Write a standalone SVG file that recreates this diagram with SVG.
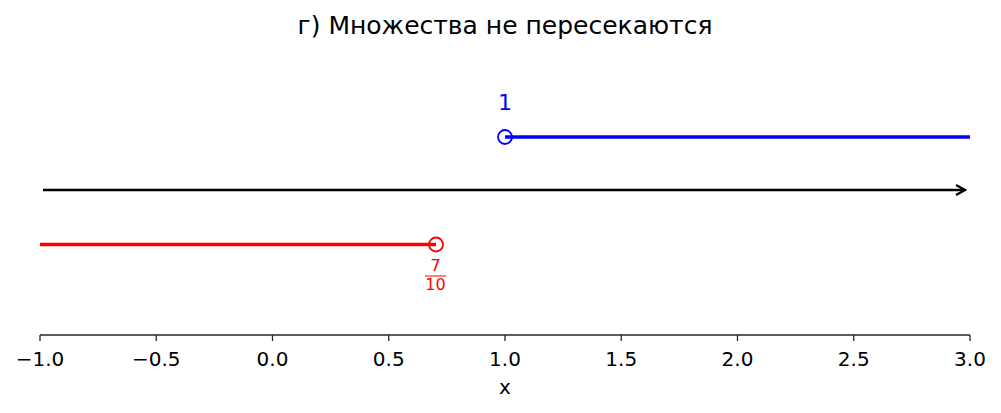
<svg xmlns="http://www.w3.org/2000/svg" width="1001" height="413" viewBox="0 0 1001 413">
<style>
text{font-family:"DejaVu Sans",sans-serif}
.tick{font-size:20px;text-anchor:middle;fill:#000}
.tk{stroke:#262626;stroke-width:1.3}
</style>
<defs>
<marker id="arr" markerWidth="12" markerHeight="12" refX="9" refY="6" orient="auto" markerUnits="userSpaceOnUse">
<path d="M1,1 L10,6 L1,11" fill="none" stroke="#000" stroke-width="2.2"/>
</marker>
</defs>
<rect width="1001" height="413" fill="#fff"/>
<text x="505" y="34" font-size="25" text-anchor="middle">г) Множества не пересекаются</text>
<g id="axis">
<line x1="40" y1="335" x2="970" y2="335" class="tk"/>
<line x1="40" y1="335" x2="40" y2="341" class="tk"/>
<line x1="156.25" y1="335" x2="156.25" y2="341" class="tk"/>
<line x1="272.5" y1="335" x2="272.5" y2="341" class="tk"/>
<line x1="388.75" y1="335" x2="388.75" y2="341" class="tk"/>
<line x1="505" y1="335" x2="505" y2="341" class="tk"/>
<line x1="621.25" y1="335" x2="621.25" y2="341" class="tk"/>
<line x1="737.5" y1="335" x2="737.5" y2="341" class="tk"/>
<line x1="853.75" y1="335" x2="853.75" y2="341" class="tk"/>
<line x1="970" y1="335" x2="970" y2="341" class="tk"/>
<text class="tick" x="40" y="366">−1.0</text>
<text class="tick" x="156.25" y="366">−0.5</text>
<text class="tick" x="272.5" y="366">0.0</text>
<text class="tick" x="388.75" y="366">0.5</text>
<text class="tick" x="505" y="366">1.0</text>
<text class="tick" x="621.25" y="366">1.5</text>
<text class="tick" x="737.5" y="366">2.0</text>
<text class="tick" x="853.75" y="366">2.5</text>
<text class="tick" x="970" y="366">3.0</text>
<text class="tick" x="505" y="394">x</text>
</g>
<g id="connectors">
<line x1="43" y1="190" x2="964" y2="190" stroke="#000" stroke-width="2.5" marker-end="url(#arr)"/>
</g>
<g id="set-blue">
<line x1="505" y1="137" x2="970" y2="137" stroke="#0000ff" stroke-width="3.5"/>
<circle cx="505" cy="137" r="7" fill="none" stroke="#0000ff" stroke-width="1.8"/>
<text x="505" y="110" font-size="22" fill="#0000ff" text-anchor="middle">1</text>
</g>
<g id="set-red">
<line x1="40" y1="244.5" x2="436" y2="244.5" stroke="#ff0000" stroke-width="3.5"/>
<circle cx="436" cy="244.5" r="7" fill="none" stroke="#ff0000" stroke-width="1.8"/>
<text x="435.5" y="271" font-size="16" fill="#ff0000" text-anchor="middle">7</text>
<line x1="425" y1="276" x2="446" y2="276" stroke="#ff0000" stroke-width="1"/>
<text x="435.5" y="290" font-size="16" fill="#ff0000" text-anchor="middle">10</text>
</g>
</svg>
